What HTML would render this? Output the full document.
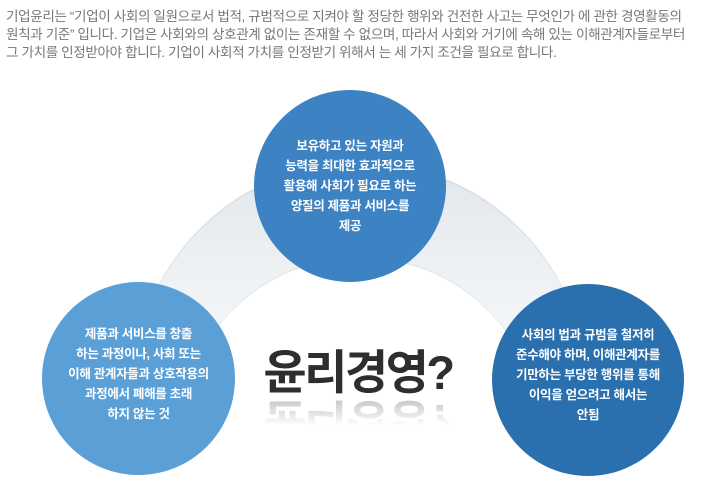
<!DOCTYPE html>
<html><head><meta charset="utf-8"><style>
body{margin:0;width:719px;height:488px;background:#fff;position:relative;overflow:hidden;font-family:"Liberation Sans","Noto Sans CJK KR",sans-serif}
.hd{position:absolute;left:6px;top:8px;font-size:13.6px;line-height:18px;color:#777;letter-spacing:-0.4px;white-space:nowrap}
.c{position:absolute;border-radius:50%;display:flex;align-items:center;justify-content:center;text-align:center;color:#fff;font-weight:bold;font-size:12.5px;line-height:20px;letter-spacing:-0.3px}
.t{position:absolute;left:258px;width:200px;text-align:center;font-size:47px;font-weight:bold;color:#2e2e2e;letter-spacing:-2.5px;line-height:50px;white-space:nowrap}
</style></head><body>
<div class="hd">기업윤리는 “기업이 사회의 일원으로서 법적, 규범적으로 지켜야 할 정당한 행위와 건전한 사고는 무엇인가 에 관한 경영활동의<br>원칙과 기준” 입니다. 기업은 사회와의 상호관계 없이는 존재할 수 없으며, 따라서 사회와 거기에 속해 있는 이해관계자들로부터<br>그 가치를 인정받아야 합니다. 기업이 사회적 가치를 인정받기 위해서 는 세 가지 조건을 필요로 합니다.</div>
<svg style="position:absolute;left:0;top:0" width="719" height="488">
<defs><linearGradient id="g" gradientUnits="userSpaceOnUse" x1="0" y1="165" x2="0" y2="440"><stop offset="0" stop-color="#e2e7ec"/><stop offset="0.5" stop-color="#f1f4f6"/><stop offset="1" stop-color="#ffffff"/></linearGradient>
<linearGradient id="s" gradientUnits="userSpaceOnUse" x1="0" y1="160" x2="0" y2="440"><stop offset="0" stop-color="#d3d9df"/><stop offset="1" stop-color="#ffffff"/></linearGradient></defs>
<path fill-rule="evenodd" fill="url(#g)" d="M134,389 A226,226 0 0 1 586,389 L586,488 L134,488 Z M179,438 A181,181 0 0 1 541,438 L541,488 L179,488 Z"/>
<path fill="none" stroke="url(#s)" stroke-width="1.5" d="M134,389 A226,226 0 0 1 586,389"/>
<path fill="none" stroke="url(#s)" stroke-width="1.5" d="M179,438 A181,181 0 0 1 541,438"/>
</svg>
<div class="c" style="left:254px;top:90px;width:192px;height:192px;background:#3d83c3"><div>보유하고 있는 자원과<br>능력을 최대한 효과적으로<br>활용해 사회가 필요로 하는<br>양질의 제품과 서비스를<br>제공</div></div>
<div class="c" style="left:42px;top:282px;width:193px;height:193px;background:#5b9fd7"><div style="margin-top:-10px">제품과 서비스를 창출<br>하는 과정이나, 사회 또는<br>이해 관계자들과 상호작용의<br>과정에서 폐해를 초래<br>하지 않는 것</div></div>
<div class="c" style="left:492px;top:284px;width:192px;height:192px;background:#2a6fae"><div style="margin-top:-10px">사회의 법과 규범을 철저히<br>준수해야 하며, 이해관계자를<br>기만하는 부당한 행위를 통해<br>이익을 얻으려고 해서는<br>안됨</div></div>
<div class="t" style="top:348px">윤리경영?</div>
<div class="t" style="top:396px;transform:scaleY(-1);opacity:0.3;-webkit-mask-image:linear-gradient(to top,#000,transparent 60%);mask-image:linear-gradient(to top,#000,transparent 60%)">윤리경영?</div>
</body></html>
